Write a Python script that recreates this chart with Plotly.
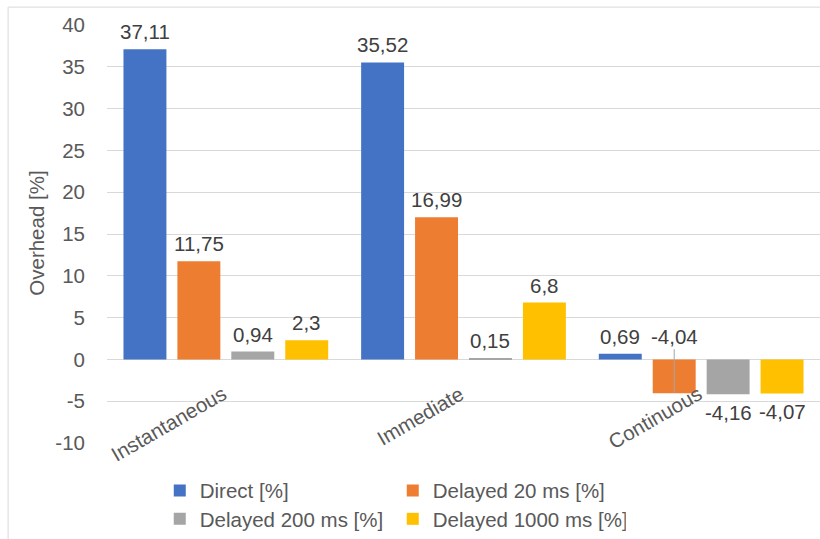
import plotly.graph_objects as go

# Overhead per release mode and delay setting
categories = ["Instantaneous", "Immediate", "Continuous"]
series_names = ["Direct [%]", "Delayed 20 ms [%]", "Delayed 200 ms [%]", "Delayed 1000 ms [%]"]
direct = [37.11, 35.52, 0.69]
delayed_20 = [11.75, 16.99, -4.04]
delayed_200 = [0.94, 0.15, -4.16]
delayed_1000 = [2.3, 6.8, -4.07]
y_ticks = [-10, -5, 0, 5, 10, 15, 20, 25, 30, 35, 40]

series_values = [direct, delayed_20, delayed_200, delayed_1000]
colors = ["#4472C4", "#ED7D31", "#A5A5A5", "#FFC000"]

BARGAP = 0.0924
BARGROUPGAP = 0.2036
FONT = "Liberation Sans, Arial, sans-serif"
FS = 20.5
AXIS_GREY = "#595959"
LABEL_GREY = "#404040"
GRID = "#d9d9d9"


def fmt(v):
    return f"{v:g}".replace(".", ",")


fig = go.Figure()
legend_ids = ["legend", "legend", "legend2", "legend2"]
for name, vals, col, lg in zip(series_names, series_values, colors, legend_ids):
    fig.add_trace(go.Bar(
        name=name, x=categories, y=vals, marker_color=col,
        marker_line_width=0, legend=lg, hoverinfo="skip",
    ))

# data labels placed over each bar's slot inside its group
n = len(series_values)
group_w = 1 - BARGAP
slot = group_w / n
annotations = []
for j, vals in enumerate(series_values):
    off = -group_w / 2 + slot * (j + 0.5)
    for i, v in enumerate(vals):
        xpos = i + off
        if v < 0 and j == 1 and i == 2:
            # label lifted above the axis with a leader line down to the bar
            annotations.append(dict(
                x=xpos, y=v, xref="x", yref="y", text=fmt(v),
                showarrow=True, arrowhead=0, arrowwidth=1, arrowcolor="#a6a6a6",
                ax=0, ay=-57, font=dict(family=FONT, size=FS, color=LABEL_GREY),
            ))
            continue
        annotations.append(dict(
            x=xpos, y=v, xref="x", yref="y", text=fmt(v), showarrow=False,
            yanchor="bottom" if v >= 0 else "top",
            yshift=4 if v >= 0 else -5,
            font=dict(family=FONT, size=FS, color=LABEL_GREY),
        ))

# category labels sit on the zero line, rotated
for i, c in enumerate(categories):
    annotations.append(dict(
        x=i, y=0, xref="x", yref="y", text=c, showarrow=False,
        textangle=-30, xanchor="right", yanchor="top", xshift=7, yshift=-19,
        font=dict(family=FONT, size=FS, color=AXIS_GREY),
    ))

annotations.append(dict(
    x=-0.0994, y=0.501, xref="paper", yref="paper", text="Overhead [%]",
    showarrow=False, textangle=-90, xanchor="center", yanchor="middle",
    font=dict(family=FONT, size=FS, color=AXIS_GREY),
))

legend_common = dict(
    orientation="h", xanchor="left", yanchor="middle",
    font=dict(family=FONT, size=FS, color=AXIS_GREY),
    entrywidth=188, entrywidthmode="pixels", bgcolor="rgba(0,0,0,0)",
    itemclick=False, itemdoubleclick=False,
)

fig.update_layout(
    width=820, height=539,
    margin=dict(l=107, r=0, t=25, b=93),
    paper_bgcolor="white", plot_bgcolor="white",
    barmode="group", bargap=BARGAP, bargroupgap=BARGROUPGAP,
    font=dict(family=FONT, size=FS, color=AXIS_GREY),
    showlegend=True,
    legend=dict(x=0.074, y=-0.114, **legend_common),
    legend2=dict(x=0.074, y=-0.183, **legend_common),
    annotations=annotations,
    xaxis=dict(
        type="category", range=[-0.5, 2.5], showticklabels=False,
        showgrid=False, zeroline=False, showline=False, ticks="",
    ),
    yaxis=dict(
        range=[-10, 40], tickvals=y_ticks, ticktext=[str(t) for t in y_ticks],
        showgrid=True, gridcolor=GRID, gridwidth=1,
        zeroline=True, zerolinecolor=GRID, zerolinewidth=1,
        showline=False, ticks="", ticklabelstandoff=21,
        tickfont=dict(family=FONT, size=FS, color=AXIS_GREY),
    ),
    shapes=[dict(
        type="rect", xref="paper", yref="paper", layer="below",
        x0=-0.1387, x1=1.2, y0=-0.5, y1=1.0428,
        line=dict(color=GRID, width=1), fillcolor="rgba(0,0,0,0)",
    )],
)

fig.write_html("out.html")
